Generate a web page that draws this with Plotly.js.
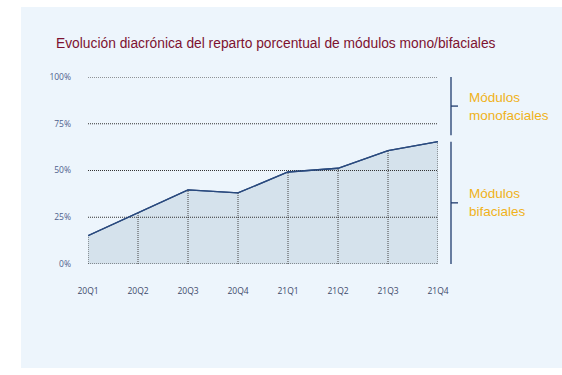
<!DOCTYPE html>
<html>
<head>
<meta charset="utf-8">
<script src="https://cdn.plot.ly/plotly-3.0.1.min.js"></script>
<style>
html,body{margin:0;padding:0;background:#ffffff;}
#chart{width:562px;height:375px;}
</style>
</head>
<body>
<div id="chart"></div>
<script>
const quarters = ["20Q1","20Q2","20Q3","20Q4","21Q1","21Q2","21Q3","21Q4"];
const bifacialShare = [15.1, 27.4, 39.6, 38.0, 49.2, 51.2, 60.6, 65.4];
const yTicks = [0, 25, 50, 75, 100];
const yTickLabels = ["0%", "25%", "50%", "75%", "100%"];
const titleText = "Evolución diacrónica del reparto porcentual de módulos mono/bifaciales";
const labelMono = "Módulos<br>monofaciales";
const labelBi = "Módulos<br>bifaciales";

// vertical drop lines from each point to 0
const dropX = [], dropY = [];
quarters.forEach((q, i) => { dropX.push(q, q, null); dropY.push(0, bifacialShare[i], null); });
// horizontal grid lines drawn above the fill
const gridX = [], gridY = [];
yTicks.forEach(v => { gridX.push(quarters[0], quarters[quarters.length - 1], null); gridY.push(v, v, null); });

const W = 562, H = 375;
const L = 88, R = 438, T = 77, B = 264;
const px = x => (x - L) / (R - L);
const py = y => (B - y) / (B - T);

const navy = "#1f3b6e";
const gold = "#f0b21a";

const traces = [
  {
    x: quarters, y: bifacialShare, type: "scatter", mode: "lines",
    fill: "tozeroy", fillcolor: "#d5e2ec",
    line: {color: "#2a4a7e", width: 1.3}, hoverinfo: "skip"
  },
  {
    x: dropX, y: dropY, type: "scatter", mode: "lines",
    line: {color: "#444444", width: 1, dash: "1px,1px"}, hoverinfo: "skip"
  },
  {
    x: gridX, y: gridY, type: "scatter", mode: "lines",
    line: {color: "#333333", width: 1, dash: "1px,1px"}, hoverinfo: "skip"
  },
  {
    x: quarters, y: bifacialShare, type: "scatter", mode: "lines",
    line: {color: "#2a4a7e", width: 1.3}, hoverinfo: "skip"
  }
];

const last = bifacialShare[bifacialShare.length - 1];

const layout = {
  width: W, height: H,
  margin: {l: L, r: W - R, t: T, b: H - B, pad: 0},
  paper_bgcolor: "#ffffff",
  plot_bgcolor: "rgba(0,0,0,0)",
  showlegend: false,
  xaxis: {
    type: "category", range: [0, quarters.length - 1],
    showgrid: false, zeroline: false, showline: false,
    ticks: "", ticklabelstandoff: 20,
    tickfont: {family: "Open Sans, sans-serif", size: 8.5, color: "#3d4a6b"},
    fixedrange: true
  },
  yaxis: {
    range: [0, 100], tickvals: yTicks, ticktext: yTickLabels,
    showgrid: false, zeroline: false, showline: false, ticks: "", ticklabelstandoff: 16,
    tickfont: {family: "Open Sans, sans-serif", size: 8.5, color: "#4d5f8c"},
    fixedrange: true
  },
  shapes: [
    {type: "rect", xref: "paper", yref: "paper", layer: "below",
     x0: px(21), x1: px(562), y0: py(368), y1: py(7),
     fillcolor: "#edf5fc", line: {width: 0}},
    // top bracket (monofaciales)
    {type: "line", xref: "paper", yref: "y", x0: px(451), x1: px(451), y0: last + 3.5, y1: 100,
     line: {color: navy, width: 1.3}},
    {type: "line", xref: "paper", yref: "y", x0: px(451), x1: px(458), y0: (last + 3.5 + 100) / 2, y1: (last + 3.5 + 100) / 2,
     line: {color: navy, width: 1.3}},
    // bottom bracket (bifaciales)
    {type: "line", xref: "paper", yref: "y", x0: px(451), x1: px(451), y0: 0, y1: last,
     line: {color: navy, width: 1.3}},
    {type: "line", xref: "paper", yref: "y", x0: px(451), x1: px(458), y0: last / 2, y1: last / 2,
     line: {color: navy, width: 1.3}}
  ],
  annotations: [
    {xref: "paper", yref: "paper", x: px(54), y: py(44), xanchor: "left", yanchor: "middle",
     text: titleText, showarrow: false,
     font: {family: "Liberation Sans, Arial, sans-serif", size: 13.8, color: "#7d1230"}},
    {xref: "paper", yref: "y", x: px(467), y: (last + 3.5 + 100) / 2, xanchor: "left", yanchor: "middle",
     text: labelMono, showarrow: false, align: "left",
     font: {family: "Liberation Sans, Arial, sans-serif", size: 13.5, color: gold}},
    {xref: "paper", yref: "y", x: px(467), y: last / 2, xanchor: "left", yanchor: "middle",
     text: labelBi, showarrow: false, align: "left",
     font: {family: "Liberation Sans, Arial, sans-serif", size: 13.5, color: gold}}
  ]
};

Plotly.newPlot("chart", traces, layout, {displayModeBar: false, staticPlot: true});
</script>
</body>
</html>
